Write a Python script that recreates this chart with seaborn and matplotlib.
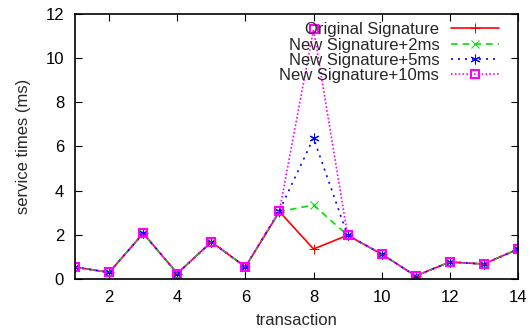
import numpy as np
import pandas as pd
import matplotlib
matplotlib.use("Agg")
import matplotlib.pyplot as plt
import seaborn as sns

# ------- Data -------
transaction = list(range(1, 15))
original = [0.54, 0.30, 2.07, 0.25, 1.68, 0.55, 3.05, 1.36, 1.98, 1.13, 0.14, 0.77, 0.68, 1.35]
new_2ms = [0.54, 0.30, 2.07, 0.25, 1.68, 0.55, 3.05, 3.35, 1.98, 1.13, 0.14, 0.77, 0.68, 1.35]
new_5ms = [0.54, 0.30, 2.07, 0.25, 1.68, 0.55, 3.10, 6.38, 1.98, 1.13, 0.14, 0.77, 0.68, 1.35]
new_10ms = [0.54, 0.30, 2.07, 0.25, 1.68, 0.55, 3.10, 11.30, 1.98, 1.13, 0.14, 0.77, 0.68, 1.35]

series_names = ["Original Signature", "New Signature+2ms",
                "New Signature+5ms", "New Signature+10ms"]
series_values = [original, new_2ms, new_5ms, new_10ms]

x_ticks = [2, 4, 6, 8, 10, 12, 14]
y_ticks = [0, 2, 4, 6, 8, 10, 12]

# ------- Style -------
sns.set_style("ticks")
plt.rcParams["font.family"] = ["Liberation Sans", "DejaVu Sans"]

styles = [
    dict(color="#ff0000", linestyle="-", marker="+", markersize=7, mfc="none"),
    dict(color="#00e000", linestyle=(0, (4, 3)), marker="x", markersize=6, mfc="none"),
    dict(color="#0000ff", linestyle=(0, (1.2, 3)), marker=(6, 2, 0), markersize=7, mfc="none"),
    dict(color="#ff00ff", linestyle=(0, (1, 1.3)), marker="s", markersize=6, mfc="none", mew=1.5),
]

fig = plt.figure(figsize=(5.29, 3.31), dpi=100)
ax = fig.add_axes([0.142, 0.157, 0.837, 0.801])

for name, vals, st in zip(series_names, series_values, styles):
    df = pd.DataFrame({"transaction": transaction, "value": vals})
    sns.lineplot(data=df, x="transaction", y="value", ax=ax, label=name,
                 linewidth=1.2, mec=st["color"], **st)

ax.set_xlim(1, 14)
ax.set_ylim(0, 12)
ax.set_xticks(x_ticks)
ax.set_yticks(y_ticks)
ax.tick_params(direction="in", top=True, right=True, length=5, width=0.8,
               labelsize=12, colors="black", pad=8)
for s in ax.spines.values():
    s.set_visible(True)
    s.set_color("black")
    s.set_linewidth(1.2)
ax.set_xlabel("transaction", fontsize=12, labelpad=6)
ax.set_ylabel("service times (ms)", fontsize=12, labelpad=10)

leg = ax.legend(loc="upper right", bbox_to_anchor=(0.977, 1.0),
                markerfirst=False, frameon=False,
                fontsize=12, handlelength=2.9, labelspacing=0.02,
                borderaxespad=0.3, borderpad=0.2, handletextpad=0.7)

fig.savefig("out.png", dpi=100)
